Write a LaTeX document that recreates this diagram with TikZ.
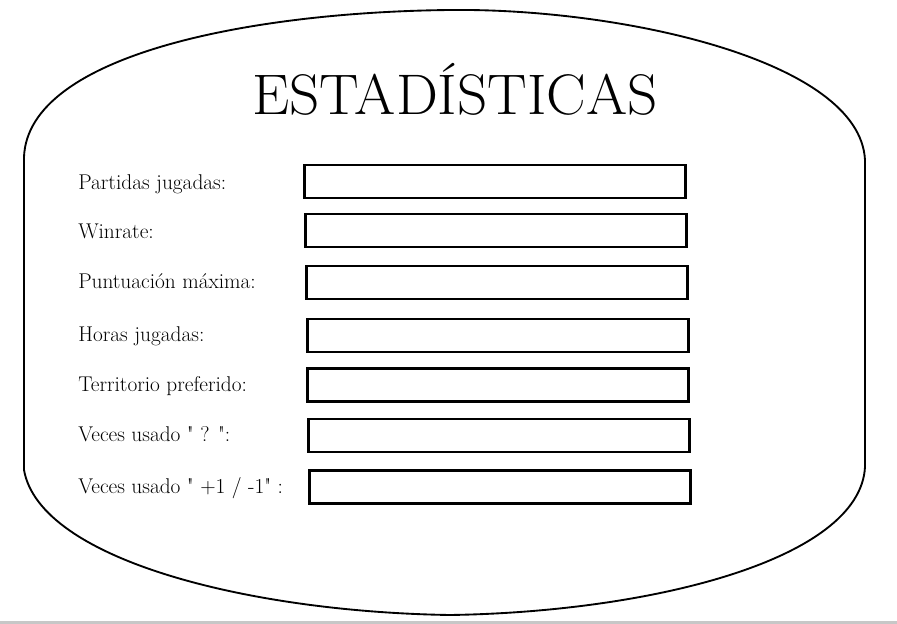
\documentclass[tikz,border=0pt]{standalone}
\usepackage{graphicx}
\usepackage{tikz}
\usetikzlibrary{calc}
\tikzset{
  panelLine/.style={
    draw=black,
    line width=1.4pt
  },
  fieldBox/.style={
    rectangle,
    draw=black,
    line width=1.8pt,
    fill=white,
    minimum width=286pt,
    minimum height=24.5pt,
    inner sep=0pt
  },
  fieldLabel/.style={
    anchor=base west,
    inner sep=0pt,
    font=\fontsize{16}{19}\selectfont
  },
  titleText/.style={
    anchor=base,
    inner sep=0pt,
    font=\fontsize{39}{44}\selectfont
  }
}

\begin{document}
\begin{tikzpicture}[x=0.75pt,y=-0.75pt]
        \useasboundingbox (0,0) rectangle (897,624);
        \fill[black!22] (0,621) rectangle (897,624);

        % panel outline
        \draw[panelLine] (24,157) .. controls (28,55) and (250,12) .. (450,10)
                .. controls (620,8) and (860,60) .. (865,160)
                -- (865,467)
                .. controls (860,560) and (650,612) .. (450,615)
                .. controls (250,612) and (40,560) .. (24,470) -- cycle;

        \node[titleText] (title) at (455,115) {\scalebox{1.14}[1.1]{ESTADÍSTICAS}};

        \node[fieldBox] (partidasBox) at (495,181.5) {};
        \node[fieldBox] (winrateBox) at (496,230.5) {};
        \node[fieldBox] (puntuacionBox) at (497,282.5) {};
        \node[fieldBox] (horasBox) at (498,335.5) {};
        \node[fieldBox] (territorioBox) at (498,385) {};
        \node[fieldBox] (interrogBox) at (499,435.5) {};
        \node[fieldBox] (masMenosBox) at (500,487) {};

        \node[fieldLabel] (partidas) at (78,190) {Partidas jugadas:};
        \node[fieldLabel] (winrate) at (78,239) {Winrate:};
        \node[fieldLabel] (puntuacion) at (78,289) {Puntuación máxima:};
        \node[fieldLabel] (horas) at (78,341) {Horas jugadas:};
        \node[fieldLabel] (territorio) at (78,391) {Territorio preferido:};
        \node[fieldLabel] (interrog) at (78,441) {Veces usado \textquotedbl\ ? \textquotedbl:};
        \node[fieldLabel] (masMenos) at (78,493) {Veces usado \textquotedbl\ +1 / -1\textquotedbl\ :};
    \end{tikzpicture}
\end{document}
